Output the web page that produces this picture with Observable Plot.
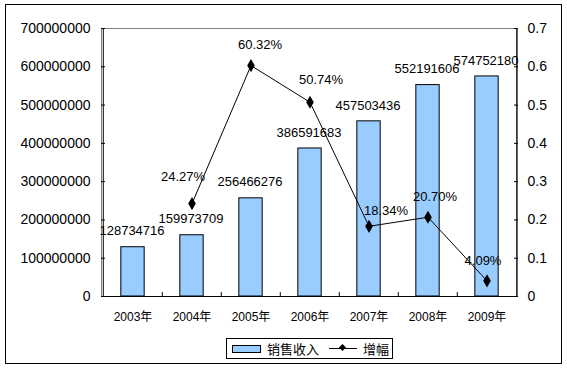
<!DOCTYPE html>
<html><head><meta charset="utf-8">
<script src="https://cdn.jsdelivr.net/npm/d3@7"></script>
<script src="https://cdn.jsdelivr.net/npm/@observablehq/plot@0.6"></script>
<style>
body{margin:0;background:#fff;font-family:"Liberation Sans",Arial,"Noto Sans CJK SC",sans-serif;}
#box{position:absolute;left:5px;top:4px;width:555px;height:358px;border:1px solid #000;background:#fff;}
#chart{position:absolute;left:0;top:0;}
#legend{position:absolute;left:220px;top:333px;width:165px;height:19px;border:1px solid #000;display:flex;align-items:center;font-size:13px;font-family:"Noto Sans CJK SC","Liberation Sans",sans-serif;color:#000;}
.sw{display:inline-block;width:27px;height:6px;background:#99CCFF;border:1px solid #000;margin:0 6px 0 5px;}
.ln{position:relative;display:inline-block;width:28px;height:1px;background:#000;margin:0 6px 0 10px;}
.ln:after{content:"";position:absolute;left:11px;top:-3px;width:5px;height:5px;background:#000;transform:rotate(45deg);}
</style></head>
<body>
<div id="box"><div id="chart"></div>
<div id="legend"><span class="sw"></span><span>销售收入</span><span class="ln"></span><span>增幅</span></div>
</div>
<script>
const years = ["2003年","2004年","2005年","2006年","2007年","2008年","2009年"];
const revenue = [128734716,159973709,256466276,386591683,457503436,552191606,574752180];
const growthYears = ["2004年","2005年","2006年","2007年","2008年","2009年"];
const growth = [0.2427,0.6032,0.5074,0.1834,0.2070,0.0409];
const growthLabels = ["24.27%","60.32%","50.74%","18.34%","20.70%","4.09%"];
const leftTicks = [0,100000000,200000000,300000000,400000000,500000000,600000000,700000000];
const rightTicks = [0,0.1,0.2,0.3,0.4,0.5,0.6,0.7];

const K = 1e9; // right axis value -> left axis units
const bars = years.map((y,i)=>({year:y, v:revenue[i]}));
const pts = growthYears.map((y,i)=>({year:y, g:growth[i]*K, label:growthLabels[i]}));

const W = 555, H = 325;
const mL = 95, mR = 44, mT = 23, mB = 34;
const band = (W - mL - mR) / years.length;

// label placement (as in the original chart, labels sit at individual offsets)
const pctLabel = (i, dx, dy) => Plot.text([pts[i]], {x: "year", y: "g", text: "label", dx, dy, fontSize: 13, fill: "#000"});

const chart = Plot.plot({
  width: W, height: H,
  marginLeft: mL, marginRight: mR, marginTop: mT, marginBottom: mB,
  style: {fontFamily: '"Liberation Sans",Arial,"Noto Sans CJK SC",sans-serif', fontSize: "13px", color: "#000", background: "#fff"},
  x: {type: "band", domain: years, padding: 0, axis: null, label: null},
  y: {domain: [0, 700000000], axis: null, label: null},
  marks: [
    Plot.frame({stroke: "#808080"}),
    Plot.barY(bars, {x: "year", y: "v", fill: "#99CCFF", stroke: "#000", strokeWidth: 1, insetLeft: band*0.3, insetRight: band*0.3}),
    Plot.axisY(leftTicks, {anchor: "left", label: null, tickSize: -4, tickPadding: 15, tickFormat: d => String(d), fontSize: 14}),
    Plot.axisY(rightTicks.map(d => d*K), {anchor: "right", label: null, tickSize: -4, tickPadding: 14, tickFormat: d => d === 0 ? "0" : String(+(d/K).toFixed(1)), fontSize: 14}),
    Plot.axisX(years, {anchor: "bottom", label: null, tickSize: 0, tickPadding: 16, fontSize: 12, style: "letter-spacing:1px"}),
    Plot.ruleX(years.slice(1), {x: d => d, y1: 0, y2: 10000000, dx: -band/2, stroke: "#000"}),
    Plot.ruleY([0], {stroke: "#000"}),
    Plot.ruleX([years[0]], {x: d => d, dx: -band/2, stroke: "#000"}),
    Plot.ruleX([years[years.length-1]], {x: d => d, dx: band/2, stroke: "#000"}),
    Plot.text(bars, {x: "year", y: "v", text: d => String(d.v), dy: -16, dx: -1, fontSize: 13, fill: "#000"}),
    Plot.line(pts, {x: "year", y: "g", stroke: "#000", strokeWidth: 1}),
    Plot.dot(pts, {x: "year", y: "g", symbol: "diamond", r: 4, fill: "#000", stroke: "none"}),
    pctLabel(0, -9, -27),
    pctLabel(1, 9, -21),
    pctLabel(2, 11, -22),
    pctLabel(3, 17, -15),
    pctLabel(4, 7, -20),
    pctLabel(5, -4, -20)
  ]
});
document.getElementById("chart").appendChild(chart);
</script>
</body></html>
